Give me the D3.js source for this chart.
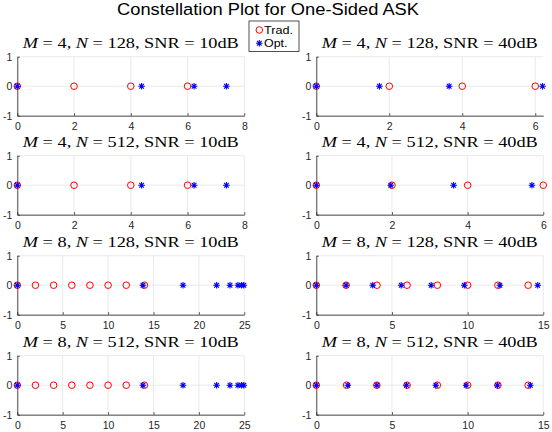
<!DOCTYPE html>
<html>
<head>
<meta charset="utf-8">
<script src="https://cdn.jsdelivr.net/npm/d3@7"></script>
<style>
  html, body { margin: 0; padding: 0; background: #fff; }
  svg { display: block; }
</style>
</head>
<body>
<svg id="chart" width="552" height="432"></svg>
<script>
// ---------- data ----------
const figTitle = "Constellation Plot for One-Sided ASK";
const legendLabels = ["Trad.", "Opt."];
const panelM = [4, 4, 4, 4, 8, 8, 8, 8];
const panelN = [128, 128, 512, 512, 128, 128, 512, 512];
const panelSNR = ["10dB", "40dB", "10dB", "40dB", "10dB", "40dB", "10dB", "40dB"];

const tradM4 = [0, 2, 4, 6];
const tradM8 = [0, 2, 4, 6, 8, 10, 12, 14];
const tradM8_40 = [0, 1.97, 4.01, 6, 8, 10, 12, 14];

const optM4N128S10 = [0, 4.38, 6.23, 7.37];
const optM4N128S40 = [0, 1.73, 3.64, 6.2];
const optM4N512S10 = [0, 4.38, 6.23, 7.37];
const optM4N512S40 = [0, 1.97, 3.63, 5.7];
const optM8N128S10 = [0, 13.84, 18.25, 21.95, 23.42, 24.3, 24.7, 24.95];
const optM8N128S40 = [0, 1.97, 3.73, 5.61, 7.59, 9.78, 12.13, 14.63];
const optM8N512S10 = [0, 13.84, 18.25, 21.95, 23.42, 24.3, 24.7, 24.95];
const optM8N512S40 = [0, 2.08, 4.0, 5.96, 7.9, 9.9, 11.97, 14.14];

const xMax = [8, 6.22, 8, 6.0, 25, 15, 25, 15];
const xTicks4a = [0, 2, 4, 6, 8];
const xTicks4b = [0, 2, 4, 6];
const xTicks8a = [0, 5, 10, 15, 20, 25];
const xTicks8b = [0, 5, 10, 15];
const yTicks = [-1, 0, 1];

const tradSets = [tradM4, tradM4, tradM4, tradM4, tradM8, tradM8_40, tradM8, tradM8];
const optSets = [optM4N128S10, optM4N128S40, optM4N512S10, optM4N512S40,
                 optM8N128S10, optM8N128S40, optM8N512S10, optM8N512S40];
const tickSets = [xTicks4a, xTicks4b, xTicks4a, xTicks4b, xTicks8a, xTicks8b, xTicks8a, xTicks8b];

// ---------- layout ----------
const svg = d3.select("#chart");
const colLeft = [17.3, 316.3];
const axW = 227;
const rowTop = [56.7, 155.7, 255.7, 355.7];
const axH = 59;
const axisColor = "#262626";
const gridColor = "#e5e5e5";
const red = "#ff0000", blue = "#0000ff";
const fmt = d => String(d);

svg.append("text")
  .attr("x", 268).attr("y", 14.7)
  .attr("text-anchor", "middle")
  .attr("font-family", "Liberation Sans, Arial, sans-serif")
  .attr("font-size", 16.8)
  .attr("fill", "#000")
  .attr("textLength", 302).attr("lengthAdjust", "spacingAndGlyphs")
  .text(figTitle);

function starPath(r) {
  const d = r * Math.SQRT1_2;
  return `M${-r},0L${r},0M0,${-r}L0,${r}M${-d},${-d}L${d},${d}M${-d},${d}L${d},${-d}`;
}

for (let i = 0; i < 8; i++) {
  const col = i % 2, row = Math.floor(i / 2);
  const x0 = colLeft[col], y0 = rowTop[row];
  const g = svg.append("g").attr("transform", `translate(${x0},${y0})`);
  const x = d3.scaleLinear().domain([0, xMax[i]]).range([0, axW]);
  const y = d3.scaleLinear().domain([-1, 1]).range([axH, 0]);

  // grid
  g.append("g").selectAll("line").data(tickSets[i]).join("line")
    .attr("x1", d => x(d)).attr("x2", d => x(d))
    .attr("y1", 0).attr("y2", axH)
    .attr("stroke", gridColor).attr("stroke-width", 0.8);
  g.append("g").selectAll("line").data(yTicks).join("line")
    .attr("x1", 0).attr("x2", axW)
    .attr("y1", d => y(d)).attr("y2", d => y(d))
    .attr("stroke", gridColor).attr("stroke-width", 0.8);

  // axes
  const xAxis = d3.axisBottom(x).tickValues(tickSets[i]).tickFormat(fmt)
    .tickSizeInner(-2.5).tickSizeOuter(0).tickPadding(7);
  const yAxis = d3.axisLeft(y).tickValues(yTicks).tickFormat(fmt)
    .tickSizeInner(-2.5).tickSizeOuter(0).tickPadding(5);
  const gx = g.append("g").attr("transform", `translate(0,${axH})`).call(xAxis);
  const gy = g.append("g").call(yAxis);
  [gx, gy].forEach(a => {
    a.select(".domain").attr("stroke", axisColor).attr("stroke-width", 0.8);
    a.selectAll(".tick line").attr("stroke", axisColor).attr("stroke-width", 0.8);
    a.selectAll(".tick text").attr("fill", axisColor)
      .attr("font-family", "Liberation Sans, Arial, sans-serif").attr("font-size", 10.5);
  });

  // markers
  g.append("g").selectAll("circle").data(tradSets[i]).join("circle")
    .attr("cx", d => x(d)).attr("cy", y(0)).attr("r", 3.3)
    .attr("fill", "none").attr("stroke", red).attr("stroke-width", 1);
  g.append("g").selectAll("path").data(optSets[i]).join("path")
    .attr("transform", d => `translate(${x(d)},${y(0)})`)
    .attr("d", starPath(3.3))
    .attr("fill", "none").attr("stroke", blue).attr("stroke-width", 1.1);

  // subplot title
  const t = svg.append("text")
    .attr("x", x0 + axW / 2).attr("y", y0 - 8.5)
    .attr("text-anchor", "middle")
    .attr("font-family", "Liberation Serif, Times New Roman, serif")
    .attr("font-size", 15.5)
    .attr("fill", "#000")
    .attr("textLength", 216).attr("lengthAdjust", "spacingAndGlyphs");
  t.append("tspan").attr("font-style", "italic").text("M");
  t.append("tspan").text(` = ${panelM[i]}, `);
  t.append("tspan").attr("font-style", "italic").text("N");
  t.append("tspan").text(` = ${panelN[i]}, SNR = ${panelSNR[i]}`);
}

// legend
const legendTextLen = [29, 23.5];
const lg = svg.append("g").attr("transform", "translate(249,21)");
lg.append("rect").attr("x", 0).attr("y", 0).attr("width", 50).attr("height", 30.5)
  .attr("fill", "#fff").attr("stroke", axisColor).attr("stroke-width", 0.8);
lg.append("circle").attr("cx", 10.3).attr("cy", 9).attr("r", 3.3)
  .attr("fill", "none").attr("stroke", red).attr("stroke-width", 1);
lg.append("path").attr("transform", "translate(10.3,22.3)").attr("d", starPath(3.3))
  .attr("fill", "none").attr("stroke", blue).attr("stroke-width", 1.1);
lg.selectAll("text").data(legendLabels).join("text")
  .attr("x", 15).attr("y", (d, k) => 13 + k * 13)
  .attr("font-family", "Liberation Sans, Arial, sans-serif")
  .attr("font-size", 10.3).attr("fill", "#000")
  .attr("textLength", (d, k) => legendTextLen[k]).attr("lengthAdjust", "spacingAndGlyphs")
  .text(d => d);
</script>
</body>
</html>
